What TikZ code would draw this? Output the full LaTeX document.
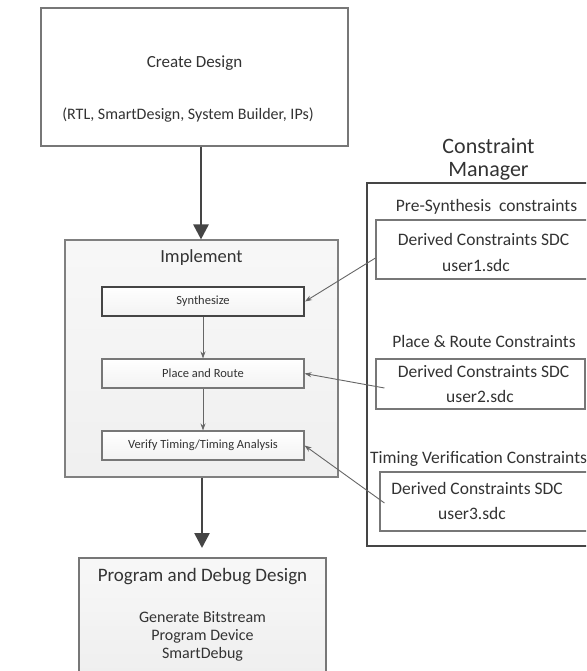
\documentclass[tikz,border=0pt]{standalone}
\usepackage{fontspec}
\setmainfont{Carlito}
\usetikzlibrary{arrows.meta}
\definecolor{txt}{HTML}{333333}
\definecolor{edge}{HTML}{777777}
\definecolor{dark}{HTML}{454545}
\tikzset{
  box/.style={draw=edge, line width=1.1pt, fill=white, inner sep=0pt},
  subbox/.style={draw=edge, line width=1.1pt, top color=white, bottom color=black!5, inner sep=0pt, minimum width=202pt, minimum height=29pt, text=txt, font=\fontsize{12.5}{14}\selectfont},
  lbl/.style={text=txt, inner sep=0pt},
  bigarrow/.style={draw=dark, line width=2.6pt, -{Triangle[length=15pt,width=15pt]}},
  thinarrow/.style={draw=black!60, line width=0.9pt, -{Stealth[length=7pt,width=5pt]}},
}
\begin{document}
\begin{tikzpicture}[x=1pt,y=-1pt]
\useasboundingbox (0,0) rectangle (586,671);
\clip (0,0) rectangle (586,671);
% Create Design
\node[box, minimum width=307pt, minimum height=138pt] (create) at (194.5,77) {};
\node[lbl, font=\fontsize{17}{20}\selectfont] (ctitle) at (194.5,63) {Create Design};
\node[lbl, font=\fontsize{16}{18}\selectfont] (csub) at (188,115) {(RTL, SmartDesign, System Builder, IPs)};
% Implement
\node[draw=black!50, line width=1.1pt, top color=black!3, bottom color=black!6, minimum width=273pt, minimum height=237pt, inner sep=0pt] (impl) at (201.5,358.5) {};
\node[lbl, font=\fontsize{18.5}{21}\selectfont] (ititle) at (201.5,258) {Implement};
\node[subbox, draw=dark, line width=2pt] (synth) at (203,301.5) {Synthesize};
\node[subbox] (pnr) at (203,373.5) {Place and Route};
\node[subbox] (verify) at (203,445.5) {Verify Timing/Timing Analysis};
\draw[thinarrow] (synth) -- (pnr);
\draw[thinarrow] (pnr) -- (verify);
% Program and Debug
\node[draw=edge, line width=1.1pt, top color=black!3, bottom color=black!7, minimum width=247pt, minimum height=142pt, inner sep=0pt] (prog) at (202.5,629) {};
\node[lbl, font=\fontsize{19}{22}\selectfont] (ptitle) at (202.5,577) {Program and Debug Design};
\node[lbl, font=\fontsize{16}{19}\selectfont, align=center] (plines) at (202.5,636) {Generate Bitstream\\[-1pt]Program Device\\[-1pt]SmartDebug};
% Big arrows
\draw[bigarrow] (create.south -| 201,0) -- (impl.north -| 201,0);
\draw[bigarrow] (impl.south -| 202,0) -- (202,548);
% Constraint Manager
\node[lbl, font=\fontsize{22}{25}\selectfont, align=center] (cmtitle) at (488.5,159.5) {Constraint\\[-2pt]Manager};
\node[draw=dark, line width=2.6pt, minimum width=240pt, minimum height=363pt, inner sep=0pt] (cm) at (487,364.5) {};
\node[lbl, font=\fontsize{17.5}{20}\selectfont] (l1) at (486.5,207) {Pre-Synthesis\ \ constraints};
\node[box, minimum width=230pt, minimum height=59pt] (b1) at (491,249.5) {};
\node[lbl, font=\fontsize{17.5}{20}\selectfont] (b1a) at (483.5,239.5) {Derived Constraints SDC};
\node[lbl, font=\fontsize{17.5}{20}\selectfont] (b1b) at (476,265.5) {user1.sdc};
\node[lbl, font=\fontsize{17.5}{20}\selectfont] (l2) at (484,341.5) {Place \& Route Constraints};
\node[box, minimum width=209pt, minimum height=50pt] (b2) at (480.5,384) {};
\node[lbl, font=\fontsize{17.5}{20}\selectfont] (b2a) at (483.5,371) {Derived Constraints SDC};
\node[lbl, font=\fontsize{17.5}{20}\selectfont] (b2b) at (480,396) {user2.sdc};
\node[lbl, font=\fontsize{17.5}{20}\selectfont, anchor=west] (l3) at (370,459) {Timing Verification Constraints};
\node[box, minimum width=226pt, minimum height=59pt] (b3) at (493,501.5) {};
\node[lbl, font=\fontsize{17.5}{20}\selectfont] (b3a) at (477,488) {Derived Constraints SDC};
\node[lbl, font=\fontsize{17.5}{20}\selectfont] (b3b) at (472,513) {user3.sdc};
% Constraint connectors
\draw[thinarrow] ([yshift=-8.5pt]b1.west) -- (synth.east);
\draw[thinarrow] ([shift={(9pt,-4pt)}]b2.west) -- (pnr.east);
\draw[thinarrow] ([shift={(5pt,-1.5pt)}]b3.west) -- (verify.east);
\end{tikzpicture}
\end{document}
